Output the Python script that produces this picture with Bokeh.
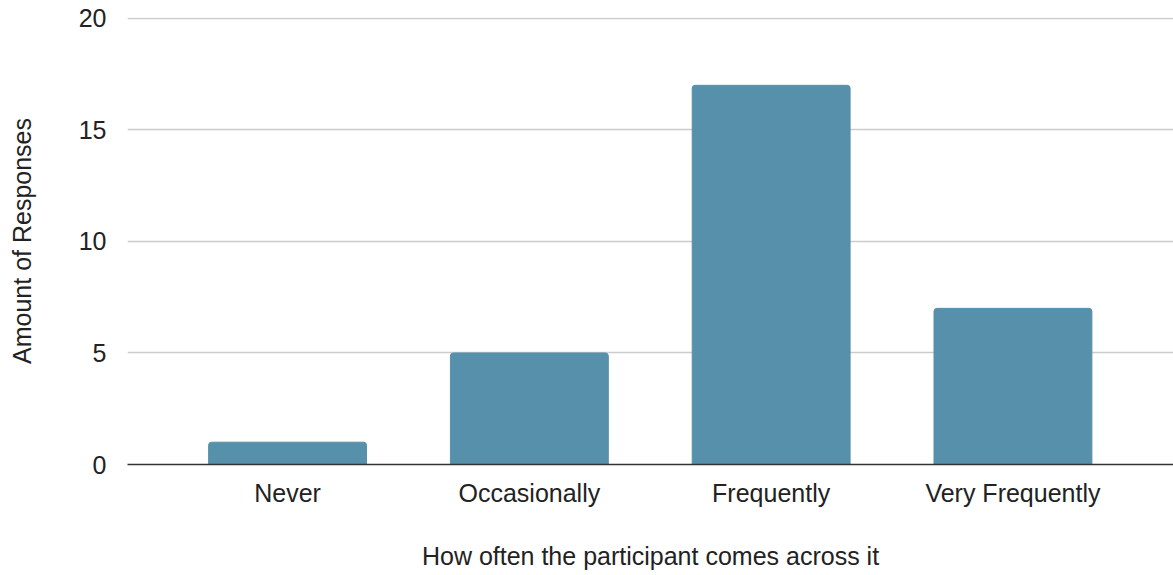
from bokeh.plotting import figure
from bokeh.models import Range1d, FixedTicker
from bokeh.embed import file_html
from bokeh.resources import INLINE

categories = ["Never", "Occasionally", "Frequently", "Very Frequently"]
responses = [1, 5, 17, 7]
y_ticks = [0, 5, 10, 15, 20]

FONT = "Liberation Sans"
BAR = "#5790ab"
FS = "25px"

xs = list(range(len(categories)))

p = figure(
    frame_width=1046, frame_height=447,
    x_range=Range1d(-0.662, len(categories) - 1 + 0.664),
    y_range=Range1d(0, 20.04),
    output_backend="svg", toolbar_location=None,
    min_border_left=127, min_border_right=0, min_border_top=17, min_border_bottom=111,
)
p.outline_line_color = None
p.background_fill_color = "white"
p.border_fill_color = "white"

p.vbar(x=xs, top=responses, width=0.653, color=BAR, border_radius=(3, 3, 0, 0))

p.xgrid.grid_line_color = None
p.ygrid.grid_line_color = "#cccccc"
p.ygrid.grid_line_width = 1.3
p.ygrid.ticker = FixedTicker(ticks=y_ticks)

# y axis
ya = p.yaxis[0]
ya.ticker = FixedTicker(ticks=y_ticks)
ya.axis_line_color = None
ya.major_tick_line_color = None
ya.minor_tick_line_color = None
ya.major_label_standoff = 15
ya.major_label_text_font = FONT
ya.major_label_text_font_size = FS
ya.major_label_text_color = "#222222"
ya.axis_label = "Amount of Responses"
ya.axis_label_text_font = FONT
ya.axis_label_text_font_size = FS
ya.axis_label_text_font_style = "normal"
ya.axis_label_text_color = "#222222"
ya.axis_label_standoff = 40

# x axis
xa = p.xaxis[0]
xa.ticker = FixedTicker(ticks=xs)
xa.major_label_overrides = {i: c for i, c in zip(xs, categories)}
xa.axis_line_color = "#333333"
xa.axis_line_width = 1.5
xa.major_tick_line_color = None
xa.minor_tick_line_color = None
xa.major_label_standoff = 8
xa.major_label_text_font = FONT
xa.major_label_text_font_size = FS
xa.major_label_text_color = "#222222"
xa.axis_label = "How often the participant comes across it"
xa.axis_label_text_font = FONT
xa.axis_label_text_font_size = FS
xa.axis_label_text_font_style = "normal"
xa.axis_label_text_color = "#222222"
xa.axis_label_standoff = 32

open("out.html", "w").write(file_html(p, INLINE))
